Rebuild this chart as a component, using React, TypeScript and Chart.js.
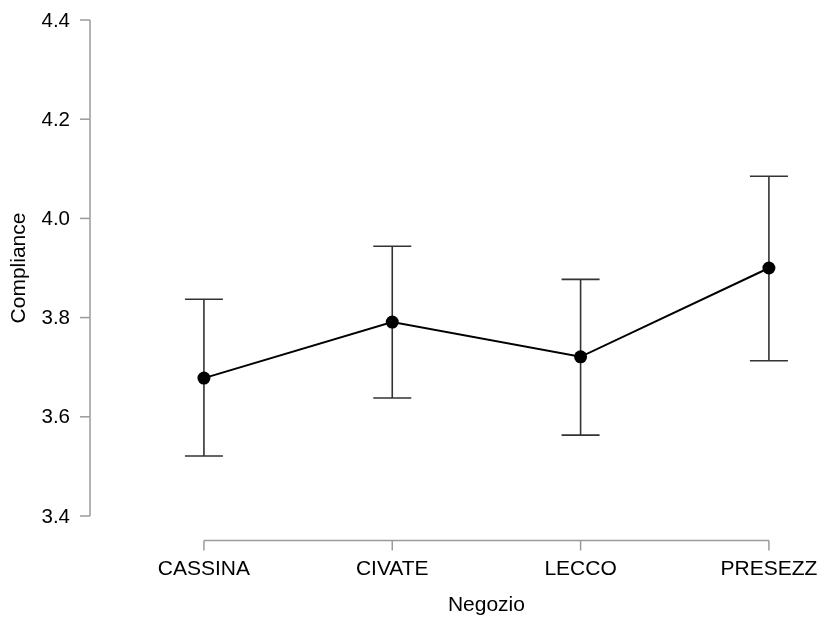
import React, { useEffect, useRef } from "react";
import { Chart, registerables } from "chart.js";

Chart.register(...registerables);

const categories = ["CASSINA", "CIVATE", "LECCO", "PRESEZZ"];
const means = [3.678, 3.791, 3.721, 3.9];
const upper = [3.837, 3.944, 3.877, 4.085];
const lower = [3.521, 3.638, 3.563, 3.713];
const yTicks = [3.4, 3.6, 3.8, 4.0, 4.2, 4.4];
const yTickLabels = ["3.4", "3.6", "3.8", "4.0", "4.2", "4.4"];
const xTitle = "Negozio";
const yTitle = "Compliance";

const FONT = "Liberation Sans, Arial, sans-serif";

const rAxesPlugin = {
  id: "rAxes",
  beforeDatasetsDraw(chart: any) {
    const ctx = chart.ctx;
    const xs = chart.scales.x;
    const ys = chart.scales.y;
    const axisColor = "#9a9a9a";
    ctx.save();
    // y axis
    const yx = chart.chartArea.left;
    ctx.strokeStyle = axisColor;
    ctx.lineWidth = 1.5;
    ctx.beginPath();
    ctx.moveTo(yx, ys.getPixelForValue(yTicks[0]));
    ctx.lineTo(yx, ys.getPixelForValue(yTicks[yTicks.length - 1]));
    ctx.stroke();
    ctx.fillStyle = "#000";
    ctx.font = `20.5px ${FONT}`;
    ctx.textAlign = "right";
    ctx.textBaseline = "middle";
    yTicks.forEach((t, i) => {
      const py = ys.getPixelForValue(t);
      ctx.beginPath();
      ctx.moveTo(yx - 10, py);
      ctx.lineTo(yx, py);
      ctx.stroke();
      ctx.fillText(yTickLabels[i], yx - 20, py + 1);
    });
    // x axis
    const xy = 540.5;
    const x0 = xs.getPixelForValue(0);
    const x1 = xs.getPixelForValue(categories.length - 1);
    ctx.beginPath();
    ctx.moveTo(x0, xy);
    ctx.lineTo(x1, xy);
    ctx.stroke();
    ctx.textAlign = "center";
    ctx.font = `21px ${FONT}`;
    categories.forEach((c, i) => {
      const px = xs.getPixelForValue(i);
      ctx.beginPath();
      ctx.moveTo(px, xy);
      ctx.lineTo(px, xy + 10);
      ctx.stroke();
      ctx.fillText(c, px, 569);
    });
    // titles
    ctx.font = `21px ${FONT}`;
    ctx.fillText(xTitle, (x0 + x1) / 2, 605);
    ctx.save();
    ctx.translate(19, 268);
    ctx.rotate(-Math.PI / 2);
    ctx.fillText(yTitle, 0, 0);
    ctx.restore();
    // error bars
    ctx.strokeStyle = "#333";
    ctx.lineWidth = 1.6;
    categories.forEach((_, i) => {
      const px = xs.getPixelForValue(i);
      const pu = ys.getPixelForValue(upper[i]);
      const pl = ys.getPixelForValue(lower[i]);
      ctx.beginPath();
      ctx.moveTo(px, pu);
      ctx.lineTo(px, pl);
      ctx.moveTo(px - 19, pu);
      ctx.lineTo(px + 19, pu);
      ctx.moveTo(px - 19, pl);
      ctx.lineTo(px + 19, pl);
      ctx.stroke();
    });
    ctx.restore();
  },
};

export default function App() {
  const ref = useRef<HTMLCanvasElement>(null);
  useEffect(() => {
    if (!ref.current) return;
    const chart = new Chart(ref.current, {
      type: "line",
      data: {
        datasets: [
          {
            data: means.map((m, i) => ({ x: i, y: m })),
            borderColor: "#000",
            backgroundColor: "#000",
            borderWidth: 2,
            pointRadius: 6.5,
            pointBackgroundColor: "#000",
            pointBorderWidth: 0,
            tension: 0,
          },
        ],
      },
      options: {
        animation: false,
        responsive: false,
        maintainAspectRatio: false,
        layout: { padding: { left: 90, top: 20, right: 0, bottom: 101 } },
        plugins: { legend: { display: false }, tooltip: { enabled: false } },
        scales: {
          x: { type: "linear", min: -0.605, max: 3.258, display: false },
          y: { type: "linear", min: 3.4, max: 4.4, display: false },
        },
      },
      plugins: [rAxesPlugin],
    });
    return () => chart.destroy();
  }, []);
  return (
    <div style={{ position: "fixed", left: 0, top: 0, width: 824, height: 617, background: "#fff" }}>
      <canvas ref={ref} width={824} height={617} style={{ width: 824, height: 617 }} />
    </div>
  );
}
